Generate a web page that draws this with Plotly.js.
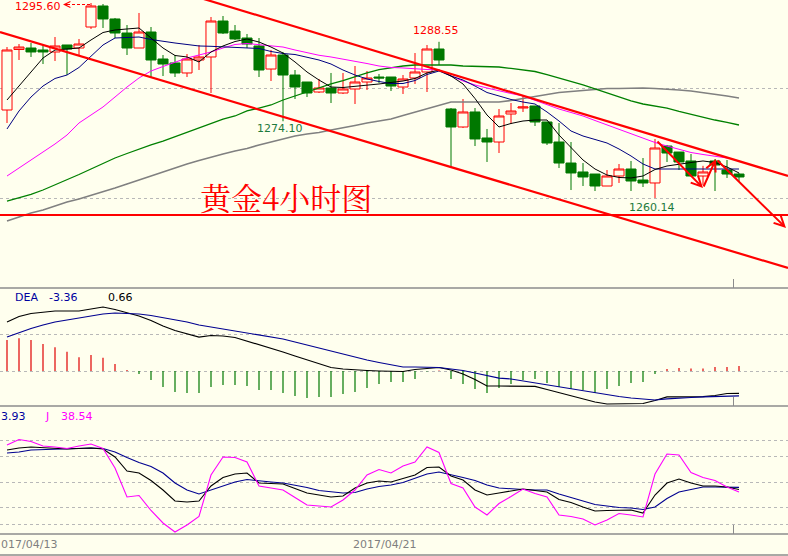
<!DOCTYPE html>
<html><head><meta charset="utf-8">
<script src="https://cdn.plot.ly/plotly-3.0.1.min.js"></script>
<style>html,body{margin:0;padding:0;background:#FFFFEE;overflow:hidden}#chart{width:788px;height:556px}</style>
</head><body><div id="chart"></div>
<script>
// ---- 4-hour gold candles ----
const open  = [1276.15,1287.15,1287.42,1287.06,1286.70,1287.97,1287.42,1291.24,1295.06,1292.70,1290.15,1287.42,1290.33,1285.42,1284.70,1282.88,1285.24,1285.79,1292.33,1290.51,1289.24,1287.79,1283.60,1286.15,1282.51,1281.24,1279.42,1280.15,1279.24,1279.97,1281.24,1282.15,1282.15,1280.33,1281.97,1283.06,1287.24,1276.33,1273.06,1275.79,1271.06,1270.33,1275.42,1276.51,1276.88,1273.97,1270.33,1266.51,1264.88,1264.51,1262.33,1264.15,1265.42,1263.42,1262.88,1269.60,1268.51,1266.88,1264.15,1266.88,1265.24,1264.51];
const high  = [1287.60,1288.15,1288.33,1287.97,1289.42,1287.97,1289.06,1295.60,1295.42,1292.88,1291.60,1293.79,1291.24,1286.15,1286.15,1286.33,1287.97,1293.06,1293.24,1291.60,1289.97,1289.24,1287.06,1286.70,1283.42,1281.24,1281.79,1282.88,1282.88,1284.15,1283.24,1282.70,1282.15,1282.51,1286.51,1287.97,1288.55,1276.51,1278.15,1276.51,1272.70,1276.33,1277.42,1278.70,1276.88,1273.97,1273.79,1270.33,1266.51,1264.51,1265.24,1266.33,1266.88,1267.42,1270.88,1269.79,1268.51,1268.15,1266.00,1267.24,1267.06,1264.70];
const low   = [1273.79,1285.24,1285.79,1284.51,1285.06,1282.51,1286.15,1290.88,1291.06,1289.24,1286.15,1287.42,1282.15,1282.33,1282.15,1282.15,1283.42,1279.24,1289.97,1288.88,1287.42,1282.15,1281.42,1274.10,1278.15,1278.51,1279.24,1277.42,1279.06,1277.24,1279.79,1281.06,1279.60,1279.06,1280.88,1279.42,1284.33,1265.60,1272.88,1269.60,1266.70,1268.33,1273.60,1275.79,1273.24,1269.79,1265.60,1261.60,1262.33,1261.42,1262.33,1262.88,1261.42,1262.15,1260.14,1266.70,1265.24,1264.15,1262.51,1261.42,1263.79,1263.06];
const close = [1287.06,1287.60,1286.70,1286.70,1287.79,1287.24,1288.15,1295.06,1292.70,1290.15,1287.42,1290.33,1285.24,1284.51,1282.88,1285.42,1285.79,1292.33,1290.15,1289.06,1288.15,1283.42,1286.15,1282.51,1280.33,1279.24,1280.15,1279.24,1279.97,1281.24,1281.97,1281.97,1280.51,1281.79,1283.06,1287.24,1285.24,1273.06,1275.79,1270.88,1270.33,1275.06,1275.97,1276.70,1273.97,1270.15,1266.51,1264.70,1263.97,1262.33,1264.15,1265.42,1263.24,1262.88,1269.24,1268.33,1266.70,1264.15,1264.88,1266.15,1264.51,1263.97];

// ---- moving averages ----
const ma5   = [1277.97,1280.51,1283.06,1285.60,1287.06,1287.24,1287.42,1288.88,1290.24,1290.70,1290.88,1291.06,1289.24,1287.42,1286.06,1285.79,1284.88,1286.70,1287.79,1288.60,1289.06,1288.51,1287.60,1286.51,1284.88,1283.06,1281.60,1280.33,1280.24,1280.42,1280.60,1280.88,1281.15,1281.42,1281.88,1282.88,1283.42,1282.33,1280.88,1278.24,1275.24,1273.06,1273.70,1274.15,1274.33,1274.33,1271.60,1269.24,1267.06,1265.42,1264.33,1263.88,1263.79,1264.15,1265.33,1265.97,1266.33,1266.60,1266.88,1266.60,1265.79,1264.70];
const ma10  = [1272.70,1275.97,1278.51,1280.51,1281.88,1282.51,1283.88,1285.97,1287.97,1289.24,1289.33,1289.42,1288.97,1288.60,1288.33,1288.06,1287.79,1287.73,1287.66,1287.60,1287.53,1287.33,1286.79,1286.42,1286.24,1285.79,1285.24,1284.51,1283.42,1282.51,1281.79,1281.33,1280.97,1280.97,1281.51,1282.60,1283.24,1282.33,1281.60,1280.51,1279.33,1278.70,1278.06,1277.60,1277.24,1275.79,1274.15,1272.33,1271.42,1270.79,1270.15,1269.06,1267.79,1266.33,1265.42,1265.42,1265.42,1265.42,1265.42,1265.42,1265.42,1265.42];
const ma20  = [1264.15,1265.60,1267.06,1268.51,1269.97,1271.60,1273.79,1275.24,1276.70,1278.51,1280.33,1281.97,1283.24,1284.06,1284.88,1285.60,1286.15,1286.70,1287.42,1288.06,1288.24,1288.06,1287.88,1287.60,1287.06,1286.60,1286.10,1285.79,1285.42,1285.06,1284.60,1284.15,1283.88,1283.79,1283.60,1283.51,1283.42,1282.33,1281.42,1280.70,1280.15,1279.60,1279.15,1278.70,1277.88,1277.06,1276.33,1275.70,1275.06,1274.24,1273.42,1272.60,1271.79,1270.97,1270.24,1269.60,1268.97,1268.42,1268.06,1267.70,1267.42,null];
const ma60  = [1259.60,1260.15,1260.79,1261.60,1262.51,1263.42,1264.42,1265.42,1266.42,1267.42,1268.24,1269.06,1269.79,1270.51,1271.33,1272.06,1272.88,1273.70,1274.51,1275.06,1275.97,1276.51,1277.06,1277.97,1278.70,1279.42,1280.24,1280.88,1281.51,1282.24,1282.88,1283.51,1283.88,1284.15,1284.33,1284.33,1284.33,1284.33,1284.15,1284.06,1283.97,1283.97,1283.70,1283.42,1283.15,1282.60,1281.97,1281.42,1280.70,1279.97,1279.24,1278.51,1277.79,1277.24,1276.88,1276.51,1275.88,1275.33,1274.79,1274.33,1273.88,1273.42];
const ma120 = [1255.97,1256.70,1257.42,1257.97,1258.70,1259.42,1259.97,1260.60,1261.33,1261.97,1262.70,1263.42,1264.15,1264.88,1265.70,1266.33,1266.97,1267.60,1268.15,1268.70,1269.15,1269.79,1270.33,1270.88,1271.42,1271.79,1272.06,1272.51,1272.88,1273.33,1273.79,1274.15,1274.51,1275.15,1275.79,1276.42,1277.06,1277.60,1277.60,1277.60,1277.60,1277.60,1277.88,1278.24,1278.60,1278.97,1279.33,1279.51,1279.70,1279.97,1280.06,1280.06,1280.15,1280.15,1280.06,1279.97,1279.79,1279.60,1279.33,1279.06,1278.70,1278.33];

// ---- MACD ----
const dif  = [6.62,7.36,7.77,7.97,8.11,8.11,8.11,8.38,8.65,8.31,7.84,7.43,6.82,6.08,5.47,5.00,4.59,4.80,4.73,4.53,4.05,3.51,3.11,2.57,2.03,1.49,1.01,0.47,0.27,0.14,0.07,0.00,-0.07,-0.07,0.20,0.34,0.47,0.14,-0.41,-1.15,-2.03,-2.03,-2.03,-2.03,-2.09,-2.50,-2.91,-3.38,-3.78,-4.19,-4.46,-4.46,-4.46,-4.39,-3.99,-3.51,-3.51,-3.51,-3.45,-3.31,-3.04,-3.03];
const dea  = [4.59,5.20,5.74,6.22,6.62,6.89,7.16,7.50,7.70,7.84,7.77,7.70,7.50,7.23,6.96,6.62,6.22,5.95,5.74,5.47,5.20,4.93,4.59,4.32,3.92,3.51,3.11,2.64,2.30,1.89,1.49,1.15,0.81,0.54,0.54,0.54,0.47,0.27,0.07,-0.27,-0.61,-0.95,-1.08,-1.35,-1.55,-1.82,-2.09,-2.36,-2.70,-2.97,-3.24,-3.45,-3.65,-3.78,-3.92,-3.78,-3.65,-3.58,-3.51,-3.45,-3.45,-3.36];
const macd = [4.19,4.42,4.19,3.65,3.20,2.61,1.85,2.16,1.80,0.95,0.14,-0.41,-1.22,-2.16,-2.84,-2.97,-2.97,-2.16,-1.89,-1.89,-2.03,-2.57,-2.57,-2.97,-3.38,-3.65,-3.51,-3.51,-3.11,-2.84,-2.30,-1.76,-1.49,-1.49,-1.08,-0.07,0.07,-1.08,-1.76,-2.43,-2.97,-2.30,-1.76,-1.22,-1.08,-1.62,-2.16,-2.43,-2.57,-2.97,-2.43,-2.03,-1.62,-1.49,-0.41,0.27,0.41,0.34,0.34,0.54,0.54,0.66];

// ---- KDJ ----
const kdjK = [88.17,90.53,91.72,91.12,90.53,89.35,89.94,90.53,89.35,79.88,63.31,60.95,52.07,40.83,27.81,26.63,27.81,45.56,55.62,59.76,60.95,49.11,48.52,47.93,42.60,37.28,34.91,32.54,33.73,43.20,49.11,51.48,50.30,54.44,58.58,67.46,68.05,57.40,52.66,40.83,34.91,37.28,39.64,42.01,40.24,38.46,29.59,26.04,20.71,15.98,16.57,17.16,17.16,13.61,34.91,49.11,53.85,49.11,45.56,45.56,44.38,41.42];
const kdjD = [84.62,85.80,88.17,88.76,88.76,89.35,89.94,90.53,89.94,85.80,79.29,73.37,68.64,60.95,49.11,40.83,36.09,40.83,45.56,50.30,53.25,51.48,50.30,49.11,46.75,43.79,40.24,38.46,37.28,37.87,42.01,44.97,46.75,49.70,55.03,59.76,62.13,59.17,55.62,52.07,46.75,43.20,42.01,41.42,40.83,40.83,36.09,31.95,27.22,23.67,21.89,20.12,19.53,17.75,20.71,30.77,38.46,41.42,44.38,44.38,44.38,43.93];
const kdjJ = [94.08,100.59,98.22,92.90,91.72,89.94,92.90,95.27,89.94,66.86,32.54,34.32,16.57,1.78,-8.88,-0.59,9.47,58.58,79.88,79.29,73.96,45.56,43.20,40.83,31.95,23.08,21.89,20.71,28.99,40.83,58.58,65.09,60.95,69.23,73.96,91.72,85.21,48.52,43.20,20.71,11.24,24.85,33.14,42.01,36.69,32.54,11.24,9.47,6.51,-0.59,5.33,13.02,11.24,8.88,59.76,83.43,82.25,61.54,55.62,52.07,44.38,38.54];

// ---- texts (as visible in the picture, which crops them at the left edge) ----
const chartTitle = '黄金4小时图';
const peakTexts = ['1295.60', '1288.55', '1274.10', '1260.14'];
const dateTexts = ['017/04/13', '2017/04/21'];
const macdTexts = ['DEA', '-3.36', '0.66'];
const kdjTexts = ['3.93', 'J', '38.54'];

// ---- hand-drawn trend lines [x0, y0, x1, y1] in (bar index, price) ----
const channelLines = [[12, 1299.24, 65.083, 1264.15], [-0.583, 1290.33, 65.083, 1247.42]];
const supportLevel = 1257.06;
const arrows = [[54.083, 1270.70, 58.0, 1261.97], [58.0, 1261.97, 59.083, 1267.24], [59.083, 1267.24, 64.917, 1254.70]];

// ---------------------------------------------------------------
const W = 788, H = 556, BG = '#FFFFEE';
const px = x => x / W, py = y => 1 - y / H;
const bars = open.map((_, i) => i);
const RED = '#FF0000', GRN = '#007800';
const line = (y, color, width, xa, ya) => ({type:'scatter', mode:'lines', x:bars, y:y, xaxis:xa, yaxis:ya,
  line:{color:color, width:width}, hoverinfo:'skip', showlegend:false});

// MACD histogram drawn as 1px stems from the zero line
const stems = (keep, color) => {
  const xs = [], ys = [];
  macd.forEach((v, i) => { if (keep(v)) { xs.push(i, i, null); ys.push(0, v, null); } });
  return {type:'scatter', mode:'lines', x:xs, y:ys, xaxis:'x2', yaxis:'y2', connectgaps:false,
    line:{color:color, width:1.2}, hoverinfo:'skip', showlegend:false};
};

const traces = [
  {type:'candlestick', x:bars, open:open, high:high, low:low, close:close, xaxis:'x', yaxis:'y',
   increasing:{line:{color:RED, width:1}, fillcolor:BG},
   decreasing:{line:{color:GRN, width:1}, fillcolor:GRN},
   whiskerwidth:0, hoverinfo:'skip', showlegend:false},
  line(ma120, '#808080', 1.6, 'x', 'y'),
  line(ma60, '#008000', 1.3, 'x', 'y'),
  line(ma20, '#FF00FF', 1, 'x', 'y'),
  line(ma10, '#000080', 1, 'x', 'y'),
  line(ma5, '#000000', 1, 'x', 'y'),
  stems(v => v >= 0, '#E00000'),
  stems(v => v < 0, GRN),
  line(dif, '#000000', 1.2, 'x2', 'y2'),
  line(dea, '#000090', 1.2, 'x2', 'y2'),
  line(kdjD, '#000090', 1.1, 'x3', 'y3'),
  line(kdjK, '#000000', 1.1, 'x3', 'y3'),
  line(kdjJ, '#FF00FF', 1.1, 'x3', 'y3')
];

const xBase = {range:[-0.5833, 65.0833], showgrid:false, zeroline:false, showticklabels:false,
  tickvals:[60.5], ticks:'inside', ticklen:9, tickcolor:'#8c8c8c', tickwidth:1, fixedrange:true, showline:false};
const yBase = {showgrid:true, gridcolor:'#b8b8b8', griddash:'dot', gridwidth:1, zeroline:false,
  showticklabels:false, ticks:'', fixedrange:true, showline:false};

const shapes = [];
[288, 406, 534, 555].forEach(y => shapes.push({type:'line', xref:'paper', yref:'paper', x0:0, x1:1, y0:py(y), y1:py(y),
  line:{color:'#8c8c8c', width:1.5}}));
channelLines.forEach(c => shapes.push({type:'line', xref:'x', yref:'y', x0:c[0], y0:c[1], x1:c[2], y1:c[3],
  line:{color:RED, width:2.2}}));
shapes.push({type:'line', xref:'x', yref:'y', x0:-0.6, x1:65.1, y0:supportLevel, y1:supportLevel, line:{color:RED, width:2.2}});
shapes.push({type:'line', xref:'paper', yref:'paper', x0:px(67), x1:px(92), y0:py(4.5), y1:py(4.5),
  line:{color:RED, width:1, dash:'3px,2px'}});

const font = (size, color) => ({family:'"DejaVu Sans", Verdana, sans-serif', size:size, color:color});
const txt = (t, x, y, anchor, f) => ({text:t, xref:'paper', yref:'paper', x:px(x), y:py(y),
  xanchor:anchor, yanchor:'middle', showarrow:false, font:f, borderpad:0});

const annotations = [
  txt(peakTexts[0], 37.5, 6.5, 'center', font(11, RED)),
  txt(peakTexts[1], 436, 30, 'center', font(11, RED)),
  txt(peakTexts[2], 280, 128, 'center', font(11, '#1E7B3C')),
  txt(peakTexts[3], 652, 207.5, 'center', font(11, '#1E7B3C')),
  txt(chartTitle, 286, 196, 'center', {family:'"Noto Serif CJK SC", "Noto Sans CJK SC", serif', size:31, color:RED}),
  txt(macdTexts[0], 14, 297, 'left', font(11, '#0000A0')),
  txt(macdTexts[1], 48, 297, 'left', font(11, '#0000A0')),
  txt(macdTexts[2], 107, 297, 'left', font(11, '#000000')),
  txt(kdjTexts[0], 0, 416, 'left', font(11, '#0000A0')),
  txt(kdjTexts[1], 44, 416, 'left', font(11, '#FF00FF')),
  txt(kdjTexts[2], 60, 416, 'left', font(11, '#FF00FF')),
  txt(dateTexts[0], 0, 544, 'left', font(11, '#808080')),
  txt(dateTexts[1], 352, 544, 'left', font(11, '#808080')),
  {text:'', xref:'paper', yref:'paper', x:px(63), y:py(4.5), ax:7, ay:0, showarrow:true,
   arrowhead:5, arrowsize:1.2, arrowwidth:1, arrowcolor:RED, standoff:0}
];
arrows.forEach(a => annotations.push({text:'', xref:'x', yref:'y', axref:'x', ayref:'y',
  ax:a[0], ay:a[1], x:a[2], y:a[3], showarrow:true, arrowhead:5, arrowsize:1, arrowwidth:2,
  arrowcolor:RED, standoff:0, startstandoff:0}));

const layout = {
  width:W, height:H, margin:{l:0, r:0, t:0, b:0}, paper_bgcolor:BG, plot_bgcolor:BG,
  showlegend:false, hovermode:false, boxgap:0.05, boxgroupgap:0.12,
  xaxis:Object.assign({}, xBase, {anchor:'y', rangeslider:{visible:false}}),
  xaxis2:Object.assign({}, xBase, {anchor:'y2'}),
  xaxis3:Object.assign({}, xBase, {anchor:'y3'}),
  yaxis:Object.assign({}, yBase, {domain:[py(288), 1], range:[1243.786, 1296.15], tickvals:[1260, 1280]}),
  yaxis2:Object.assign({}, yBase, {domain:[py(406), py(288)], range:[-4.7297, 11.2162], tickvals:[0, 5]}),
  yaxis3:Object.assign({}, yBase, {domain:[py(534), py(406)], range:[-11.24, 140.24], tickvals:[0, 20, 50, 80, 100]}),
  shapes:shapes, annotations:annotations
};

Plotly.newPlot('chart', traces, layout, {staticPlot:true, displayModeBar:false});
</script>
</body></html>
